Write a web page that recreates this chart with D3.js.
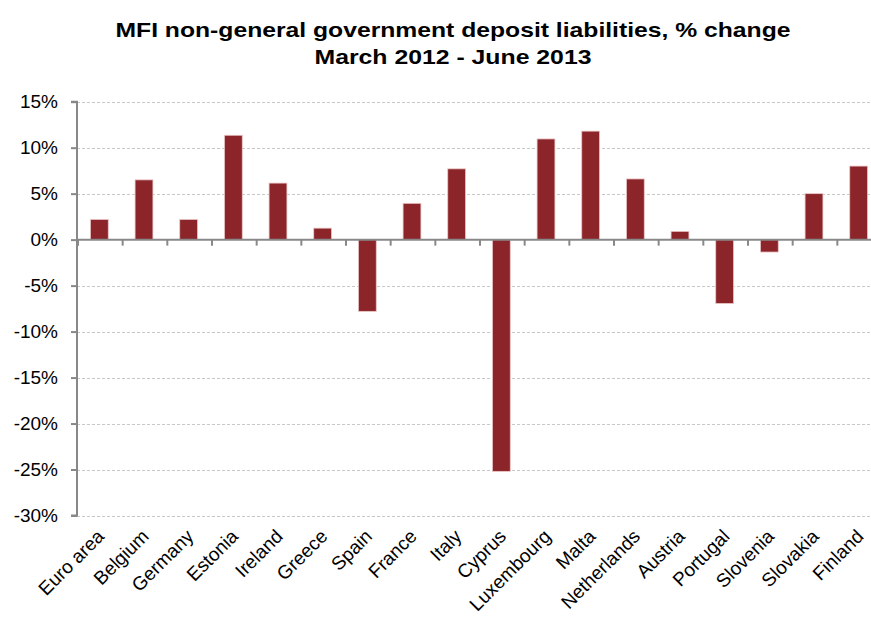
<!DOCTYPE html>
<html>
<head>
<meta charset="utf-8">
<script src="https://cdn.jsdelivr.net/npm/d3@7"></script>
<style>
  body { margin: 0; background: white; }
  svg { display: block; }
</style>
</head>
<body>
<div></div>
<script>
// chart data
const countries = ["Euro area", "Belgium", "Germany", "Estonia", "Ireland", "Greece", "Spain", "France", "Italy",
                   "Cyprus", "Luxembourg", "Malta", "Netherlands", "Austria", "Portugal", "Slovenia", "Slovakia", "Finland"];
const changes = [2.2, 6.5, 2.2, 11.35, 6.15, 1.25, -7.8, 3.95, 7.7,
                 -25.2, 10.95, 11.8, 6.6, 0.9, -6.95, -1.35, 5.0, 8.0];
const yTicks = [15, 10, 5, 0, -5, -10, -15, -20, -25, -30];
const titleLines = ["MFI non-general government deposit liabilities, % change", "March 2012 - June 2013"];

drawChart();

function drawChart() {
   const w = 871;
   const h = 620;
   const left = 77;
   const right = 881;   // plot runs a little past the window edge, as in the original
   const top = 101.7;
   const bottom = 515.5;
   const barColor = "#8B252A";
   const font = "'Liberation Sans', Arial, sans-serif";

   const svg = d3.select("div")
                 .append("svg")
                 .attr("width", w)
                 .attr("height", h)
                 .style("background-color", "white");

   const data = countries.map((c, i) => ({country: c, value: changes[i]}));

   const xScale = d3.scaleBand()
                    .domain(countries)
                    .range([left, right])
                    .paddingInner(0.6)
                    .paddingOuter(0.3);

   const yScale = d3.scaleLinear()
                    .domain([-30, 15])
                    .range([bottom, top]);

   // title
   svg.selectAll(".title")
      .data(titleLines)
      .enter()
      .append("text")
      .attr("class", "title")
      .attr("x", 453)
      .attr("y", (d, i) => 37 + i * 27)
      .attr("text-anchor", "middle")
      .attr("textLength", (d, i) => i == 0 ? 675 : 277)
      .attr("lengthAdjust", "spacingAndGlyphs")
      .style("font-family", font)
      .style("font-weight", "bold")
      .style("font-size", "21px")
      .text(d => d);

   // grid lines
   svg.append("g")
      .selectAll("line")
      .data(yTicks.filter(d => d != 0))
      .enter()
      .append("line")
      .attr("x1", left)
      .attr("x2", w)
      .attr("y1", d => Math.round(yScale(d)) + 0.5)
      .attr("y2", d => Math.round(yScale(d)) + 0.5)
      .attr("stroke", "#c8c8c8")
      .attr("stroke-width", 1)
      .attr("stroke-dasharray", "3,2");

   // bars
   svg.append("g")
      .selectAll("rect")
      .data(data)
      .enter()
      .append("rect")
      .attr("x", d => xScale(d.country))
      .attr("y", d => yScale(Math.max(0, d.value)))
      .attr("width", xScale.bandwidth())
      .attr("height", d => Math.abs(yScale(d.value) - yScale(0)))
      .attr("fill", barColor)
      .attr("stroke", "#ecc8c8")
      .attr("stroke-width", 0.8);

   // y axis
   const yAxis = d3.axisLeft(yScale)
                   .tickValues(yTicks)
                   .tickSize(6)
                   .tickPadding(13)
                   .tickFormat(d => d + "%");

   const yG = svg.append("g")
                 .attr("transform", "translate(" + left + ",0)")
                 .call(yAxis);
   yG.selectAll("path, line").attr("stroke", "#888").attr("stroke-width", 2);
   yG.select("path").attr("d", "M-6," + yScale(15) + "H0V" + yScale(-30) + "H-6");
   yG.selectAll("text")
     .style("font-family", font)
     .style("font-size", "19px")
     .attr("fill", "#000");

   // zero line with category ticks
   const step = xScale.step();
   const boundaries = d3.range(countries.length + 1).map(i => left + i * step);
   const zeroY = yScale(0);

   svg.append("line")
      .attr("x1", left)
      .attr("x2", w)
      .attr("y1", zeroY)
      .attr("y2", zeroY)
      .attr("stroke", "#888")
      .attr("stroke-width", 2);

   svg.append("g")
      .selectAll("line")
      .data(boundaries)
      .enter()
      .append("line")
      .attr("x1", d => d + 1)
      .attr("x2", d => d + 1)
      .attr("y1", zeroY)
      .attr("y2", zeroY + 6)
      .attr("stroke", "#888")
      .attr("stroke-width", 2);

   // category labels, rotated
   svg.append("g")
      .selectAll("text")
      .data(countries)
      .enter()
      .append("text")
      .attr("transform", d => "translate(" + (xScale(d) + xScale.bandwidth() / 2 + 6) + "," + (bottom + 22) + ") rotate(-45)")
      .attr("text-anchor", "end")
      .style("font-family", font)
      .style("font-size", "19px")
      .text(d => d);
}
</script>
</body>
</html>
